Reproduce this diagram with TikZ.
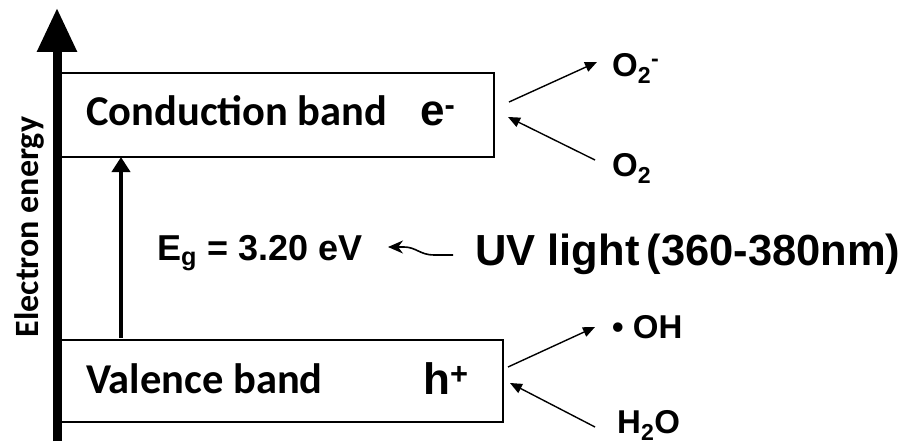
\documentclass[tikz,border=0pt]{standalone}
\usepackage{fontspec}
\setmainfont{Liberation Sans}
\newfontfamily\calfont{Carlito}
\usetikzlibrary{arrows.meta,positioning}
\tikzset{band/.style={draw,line width=2pt,inner sep=0pt,anchor=north west},bandlabel/.style={anchor=base west,inner sep=0pt,font=\calfont\bfseries\fontsize{42.5}{42.5}\selectfont},carrier/.style={anchor=base west,inner sep=0pt,font=\bfseries\fontsize{44}{44}\selectfont},species/.style={anchor=base west,inner sep=0pt,font=\bfseries\fontsize{33}{33}\selectfont},react/.style={-{Triangle[length=12pt,width=10pt]},line width=1.4pt}}
\begin{document}
\begin{tikzpicture}[x=1pt,y=-1pt]
\useasboundingbox (0,0) rectangle (901,444);
% bands
\node[band,minimum width=436pt,minimum height=84pt] (cb) at (57,72) {};
\node[band,minimum width=445pt,minimum height=82pt] (vb) at (57,339) {};
\node[bandlabel] (cbtext) at (86,125) {Conduction band};
\node[bandlabel] (vbtext) at (86,393) {Valence band};
\node[carrier] (elec) at (420,125) {e\textsuperscript{-}};
\node[carrier] (hole) at (423,394) {h\textsuperscript{+}};
% energy axis
\coordinate (axisfoot) at (57,441);
\coordinate (axistip) at (57,8);
\draw[line width=9pt,-{Triangle[length=44pt,width=38pt]}] (axisfoot) -- (axistip);
\node[rotate=90,anchor=base,inner sep=0pt,font=\calfont\bfseries\fontsize{34}{34}\selectfont] (axislabel) at (38,227) {Electron energy};
% band gap
\coordinate (gapfoot) at (121,338);
\coordinate (gaptip) at (121,157);
\draw[line width=4.5pt,-{Triangle[length=15pt,width=18pt]}] (gapfoot) -- (gaptip);
\node[anchor=base west,inner sep=0pt,font=\bfseries\fontsize{36}{36}\selectfont] (gap) at (157,260) {E\textsubscript{g} = 3.20 eV};
\node[anchor=base west,inner sep=0pt,font=\bfseries\fontsize{43.5}{43.5}\selectfont] (uv) at (475,265) {UV light\hspace{-5pt} (360-380nm)};
\coordinate (uvtail) at (453,255);
\coordinate (uvtip) at (388,247);
\draw[line width=1.6pt,-{Stealth[length=15pt,width=13pt]}] (uvtail) -- (434,255) .. controls (420,255) and (416,247) .. (404,247) -- (uvtip);
% surface reactions
\node[species] (superox) at (612,76) {O\textsubscript{2}\textsuperscript{-}};
\node[species] (oxy) at (612,176) {O\textsubscript{2}};
\node[species] (hydrox) at (612,338) {\textbullet\ OH};
\node[species] (water) at (617,433) {H\textsubscript{2}O};
\coordinate (cbout) at (509,102);
\coordinate (cbin) at (508,117);
\coordinate (vbout) at (508,367);
\coordinate (vbin) at (510,383);
\coordinate (superoxin) at (597,62);
\coordinate (oxyout) at (595,160);
\coordinate (hydroxin) at (595,327);
\coordinate (waterout) at (595,427);
\draw[react] (cbout) -- (superoxin);
\draw[react] (oxyout) -- (cbin);
\draw[react] (vbout) -- (hydroxin);
\draw[react] (waterout) -- (vbin);
\end{tikzpicture}
\end{document}
